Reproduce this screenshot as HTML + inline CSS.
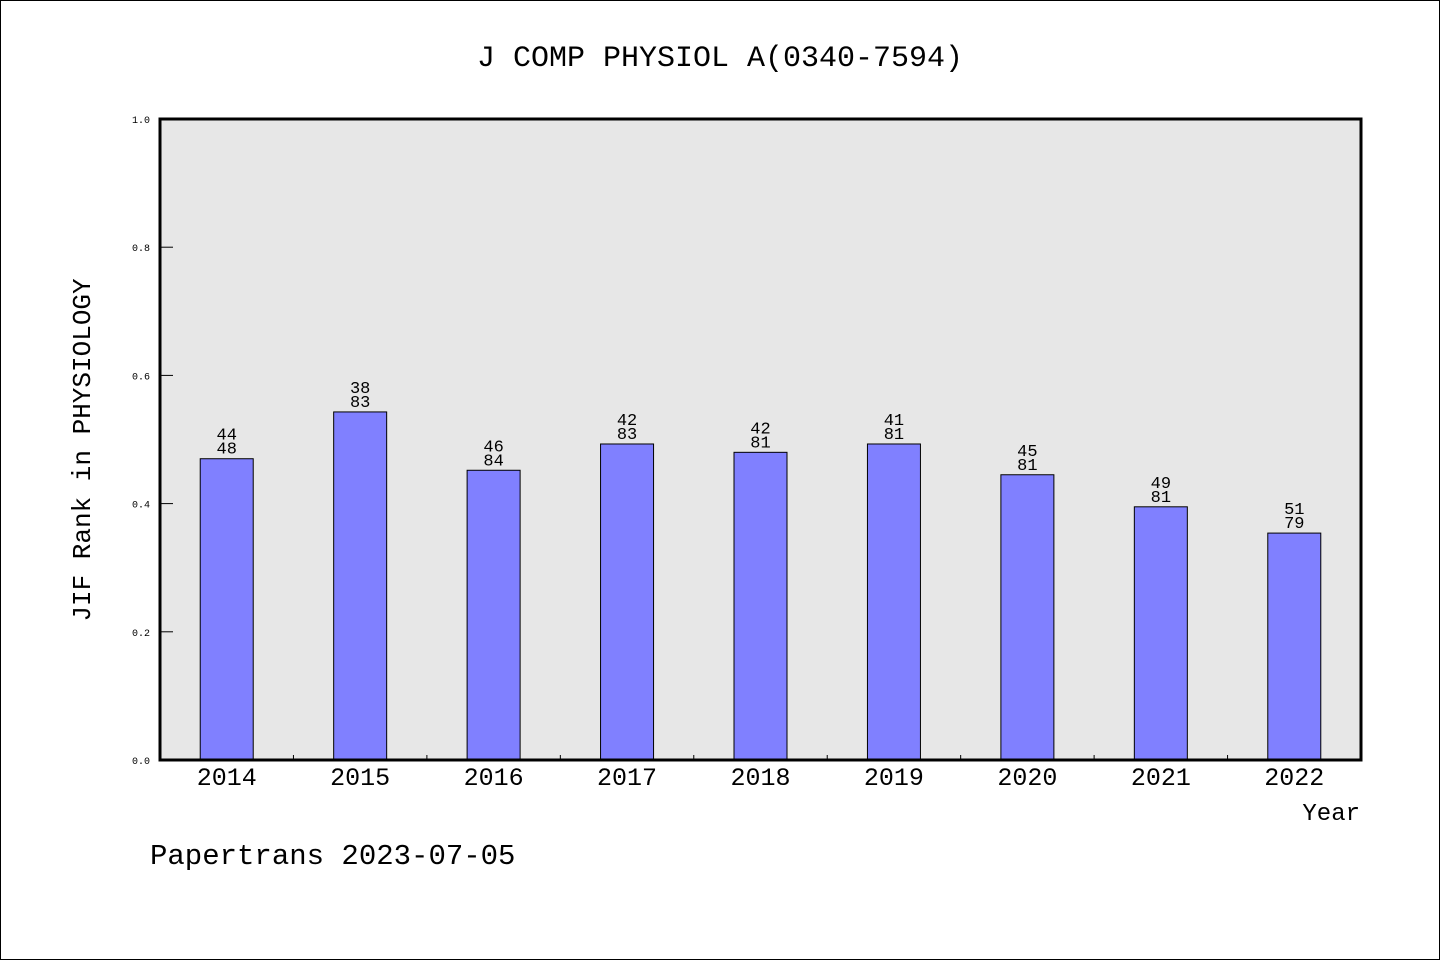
<!DOCTYPE html>
<html><head><meta charset="utf-8"><style>
body{margin:0;background:#fff}
svg text{font-family:"Liberation Mono","WenQuanYi Zen Hei",monospace;fill:#000}
</style></head><body>
<svg width="1440" height="960" xmlns="http://www.w3.org/2000/svg">
<rect x="0.5" y="0.5" width="1439" height="959" fill="#fff" stroke="#000"/>
<text x="720" y="66" font-size="30" text-anchor="middle">J COMP PHYSIOL A(0340-7594)</text>
<rect x="160" y="119" width="1201" height="641" fill="#e7e7e7"/>
<g id="ticks"></g>
<g id="bars"></g>
<rect x="160" y="119" width="1201" height="641" fill="none" stroke="#000" stroke-width="3"/>
<text transform="translate(90,450) rotate(-90)" font-size="26" text-anchor="middle">JIF Rank in PHYSIOLOGY</text>
<text x="1360" y="820" font-size="24" text-anchor="end">Year</text>
<text x="150" y="864" font-size="29">Papertrans 2023-07-05</text>
</svg>
<script>
const years=["2014","2015","2016","2017","2018","2019","2020","2021","2022"];
const values=[0.470,0.543,0.452,0.493,0.480,0.493,0.445,0.395,0.354];
const ranks=["44","38","46","42","42","41","45","49","51"];
const totals=["48","83","84","83","81","81","81","81","79"];
const yTicks=[0,0.2,0.4,0.6,0.8,1.0];
const yTickLabels=["0.0","0.2","0.4","0.6","0.8","1.0"];
const NS="http://www.w3.org/2000/svg";
const X0=160,W=1201,Y0=760,H=641;
const band=W/years.length;
const y=v=>Y0-v*H;
const xc=i=>X0+band*(i+0.5);
const bars=document.getElementById('bars'),ticks=document.getElementById('ticks');
function mk(tag,attrs,parent){const e=document.createElementNS(NS,tag);for(const k in attrs)e.setAttribute(k,attrs[k]);parent.appendChild(e);return e;}
yTicks.forEach((v,i)=>{
 const l=mk('line',{x1:160,x2:173,y1:y(v),y2:y(v),stroke:'#000'},ticks);
 
 
 const t=mk('text',{x:150,y:y(v)+4,'font-size':10,'text-anchor':'end'},ticks);
 t.textContent=yTickLabels[i];
 
 
});
years.forEach((yr,i)=>{
 if(i>0){const l=mk('line',{x1:X0+band*i,x2:X0+band*i,y1:755,y2:760,stroke:'#000'},ticks);
 
 }
 const bw=53;
 const r=mk('rect',{x:xc(i)-bw/2,y:y(values[i]),width:bw,height:Y0-y(values[i]),fill:'#8080ff',stroke:'#000','stroke-width':1},bars);
 
 
 const t1=mk('text',{x:xc(i),y:y(values[i])-19,'font-size':17,'text-anchor':'middle'},bars);
 t1.textContent=ranks[i];
 
 
 const t2=mk('text',{x:xc(i),y:y(values[i])-5,'font-size':17,'text-anchor':'middle'},bars);
 t2.textContent=totals[i];
 
 
 const xl=mk('text',{x:xc(i),y:785,'font-size':25,'text-anchor':'middle'},bars);
 xl.textContent=yr;
 
 
});
</script>
</body></html>
